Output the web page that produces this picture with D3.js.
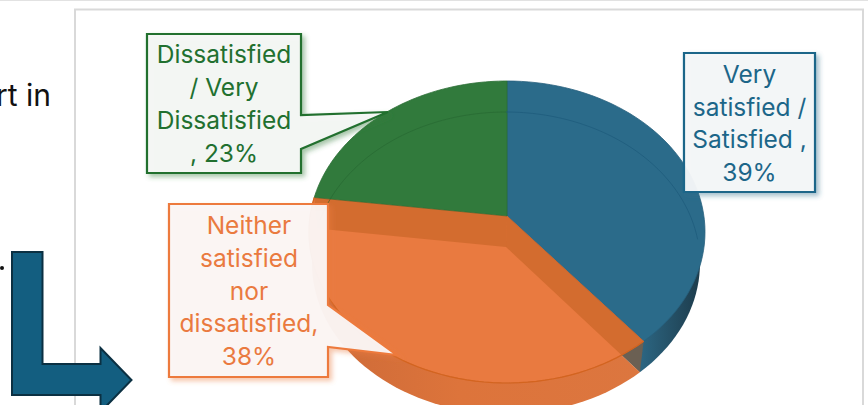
<!DOCTYPE html>
<html>

<head>
	<meta charset="utf-8">
	<title>Satisfaction pie</title>
	<script src="https://cdn.jsdelivr.net/npm/d3@7"></script>
	<style>
		html, body { margin: 0; padding: 0; background: #fff; overflow: hidden; }
		svg { display: block; }
		text { font-family: Inter, "Noto Sans", sans-serif; }
	</style>
</head>

<body>
	<svg id="chart" width="868" height="405"></svg>

	<script>
		var categories = ['Very satisfied / Satisfied', 'Neither satisfied nor dissatisfied', 'Dissatisfied / Very Dissatisfied'];
		var values = [39, 38, 23];
		var colors = ['#2b6b8a', '#e97a40', '#317a3c'];
		var textColors = ['#1c6689', '#ea7a3f', '#21702f'];
		var labelLines = [
			['Very', 'satisfied /', 'Satisfied ,', '39%'],
			['Neither', 'satisfied', 'nor', 'dissatisfied,', '38%'],
			['Dissatisfied', '/ Very', 'Dissatisfied', ', 23%']
		];

		var svg = d3.select('#chart');
		var defs = svg.append('defs');

		['blue', 'orange', 'green'].forEach(function (name, i) {
			defs.append('filter')
				.attr('id', 'shadow-' + name)
				.attr('x', '-10%').attr('y', '-10%')
				.attr('width', '125%').attr('height', '125%')
				.append('feDropShadow')
				.attr('dx', 3).attr('dy', 3)
				.attr('stdDeviation', 2.5)
				.attr('flood-color', colors[i])
				.attr('flood-opacity', 0.45);
		});

		var wallBlue = defs.append('linearGradient').attr('id', 'wall-blue')
			.attr('x1', 0).attr('x2', 1).attr('y1', 0).attr('y2', 0);
		wallBlue.append('stop').attr('offset', '70%').attr('stop-color', '#2c6581');
		wallBlue.append('stop').attr('offset', '100%').attr('stop-color', '#1d3c4c');

		var wallOrange = defs.append('linearGradient').attr('id', 'wall-orange')
			.attr('x1', 0).attr('x2', 1).attr('y1', 0).attr('y2', 0);
		wallOrange.append('stop').attr('offset', '0%').attr('stop-color', '#cc6a38');
		wallOrange.append('stop').attr('offset', '45%').attr('stop-color', '#dd743b');
		wallOrange.append('stop').attr('offset', '100%').attr('stop-color', '#dc763f');

		// page bits around the chart
		svg.append('line').attr('x1', 0).attr('x2', 868).attr('y1', 0).attr('y2', 0)
			.attr('stroke', '#e2e2e2').attr('stroke-width', 2);
		svg.append('rect')
			.attr('x', 75).attr('y', 9.5).attr('width', 788).attr('height', 420)
			.attr('fill', '#fff').attr('stroke', '#d9d9d9').attr('stroke-width', 2);
		svg.append('text').attr('x', 51).attr('y', 106)
			.attr('text-anchor', 'end')
			.attr('font-size', 30).attr('fill', '#111')
			.text('rt in');
		svg.append('circle').attr('cx', 2).attr('cy', 268).attr('r', 2).attr('fill', '#111');
		svg.append('path')
			.attr('d', 'M12,252H42.5V364H100.5V348L131.5,380L100.5,412V395H12Z')
			.attr('fill', '#135e80').attr('stroke', '#0b3042').attr('stroke-width', 2);

		// pie seen in perspective: unit circle -> ellipse with the centre pushed back
		var face = { cx: 507, cy: 232, rx: 198, ry: 151, k: 16 / 151 };
		var low = { cx: 506, cy: 263, rx: 194, ry: 151, k: 16 / 151 };

		function project(g, angle) {
			var x = Math.sin(angle), y = -Math.cos(angle), w = 1 - g.k * y;
			return [
				g.cx + g.rx * Math.sqrt(1 - g.k * g.k) * x / w,
				g.cy + (g.ry * y - g.ry * g.k) / w
			];
		}

		function apex(g) {
			return [g.cx, g.cy - g.ry * g.k];
		}

		function rim(g, a0, a1) {
			return d3.range(0, 61).map(function (i) {
				return project(g, a0 + (a1 - a0) * i / 60);
			});
		}

		var pen = d3.line();

		function wedge(g, d) {
			return pen([apex(g)].concat(rim(g, d.startAngle, d.endAngle))) + 'Z';
		}

		var slices = d3.pie().sort(null).value(function (d) { return d; })(values);
		var blue = slices[0], orange = slices[1], green = slices[2];

		// side wall, underneath everything
		svg.append('path').attr('d', wedge(low, blue)).attr('fill', 'url(#wall-blue)');
		svg.append('path').attr('d', wedge(low, orange)).attr('fill', 'url(#wall-orange)');

		// top face
		svg.append('g').selectAll('path')
			.data(slices)
			.enter()
			.append('path')
			.attr('d', function (d) { return wedge(face, d); })
			.attr('fill', function (d, i) { return colors[i]; })
			.attr('stroke', function (d, i) { return d3.color(colors[i]).darker(0.3); })
			.attr('stroke-width', 0.8);

		// far rim seen through the blue and green
		svg.append('path')
			.attr('d', pen(rim(low, 0, blue.endAngle * 0.62)))
			.attr('fill', 'none')
			.attr('stroke', '#1c5a7a').attr('stroke-opacity', 0.7).attr('stroke-width', 1);
		svg.append('path')
			.attr('d', pen(rim(low, green.startAngle + 0.06, green.endAngle)))
			.attr('fill', 'none')
			.attr('stroke', '#2a6e35').attr('stroke-width', 1);

		// cut walls of the orange slice, showing through its face
		function cutWall(angle) {
			var a = project(face, angle), b = project(low, angle);
			return pen([apex(face), a, b, apex(low)]) + 'Z';
		}
		svg.append('path').attr('d', cutWall(orange.startAngle))
			.attr('fill', '#b85a1a').attr('fill-opacity', 0.45);
		svg.append('path').attr('d', cutWall(orange.endAngle))
			.attr('fill', '#b85a1a').attr('fill-opacity', 0.45);

		// front rim of the orange face
		svg.append('path')
			.attr('d', pen(rim(face, orange.startAngle, orange.endAngle)))
			.attr('fill', 'none')
			.attr('stroke', '#d4641f').attr('stroke-width', 1.2);

		// callouts
		var boxes = [
			{ d: 'M684,53H815V192H684Z', name: 'blue', cx: 749.5, y0: 83, step: 32.7 },
			{ d: 'M169,204H328V305L397,355L328,347V377H169Z', name: 'orange', cx: 249, y0: 234, step: 32.8 },
			{ d: 'M147,34H301V115L388,112L301,149V173H147Z', name: 'green', cx: 224, y0: 63, step: 33 }
		];

		boxes.forEach(function (b, i) {
			svg.append('path')
				.attr('d', b.d)
				.attr('fill', ['#f5f8f9', '#fbf7f5', '#f5f8f5'][i])
				.attr('fill-opacity', 0.95)
				.attr('stroke', textColors[i] === '#ea7a3f' ? '#ed7a3c' : textColors[i])
				.attr('stroke-width', 2.2)
				.attr('filter', 'url(#shadow-' + b.name + ')');

			svg.append('g').selectAll('text')
				.data(labelLines[i])
				.enter()
				.append('text')
				.attr('x', b.cx)
				.attr('y', function (d, j) { return b.y0 + j * b.step; })
				.attr('text-anchor', 'middle')
				.attr('font-size', 24.5)
				.attr('fill', textColors[i])
				.text(function (d) { return d; });
		});
	</script>
</body>

</html>
